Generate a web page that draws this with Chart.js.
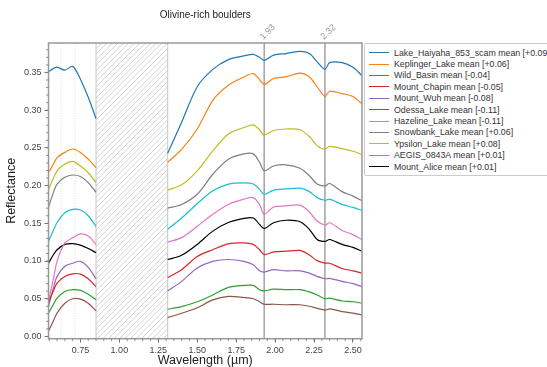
<!DOCTYPE html>
<html>
<head>
<meta charset="utf-8">
<script src="https://cdn.jsdelivr.net/npm/chart.js@4.4.1/dist/chart.umd.min.js"></script>
<style>
  html, body { margin: 0; padding: 0; background: #fff; overflow: hidden; }
  #wrap { position: relative; width: 547px; height: 367px; }
  #legend {
    position: absolute; left: 364px; top: 43px;
    border: 1px solid #ccc; border-radius: 2px; padding: 3px 4px;
    white-space: nowrap; background: #fff; color: #333;
    font: 8.8px "Liberation Sans", Arial, sans-serif;
  }
  .row { display: flex; align-items: center; height: 11.4px; }
  .swatch { width: 20px; height: 0; border-top: 1.2px solid; margin-right: 5px; }
</style>
</head>
<body>
<div id="wrap">
  <canvas id="chart" width="547" height="367"></canvas>
  <div id="legend"></div>
</div>
<script>
// wavelengths (µm); null value at 1.08 breaks the line across the masked region
const wavelengths = [0.545, 0.575, 0.60, 0.65, 0.70, 0.75, 0.80, 0.85,
    1.08,
    1.31, 1.40, 1.50, 1.60, 1.70, 1.80, 1.86, 1.90, 1.93, 1.99, 2.07, 2.16, 2.22, 2.27, 2.32, 2.35, 2.43, 2.50, 2.557];

const names = [
    "Lake_Haiyaha_853_scam mean [+0.09]",
    "Keplinger_Lake mean [+0.06]",
    "Wild_Basin mean [-0.04]",
    "Mount_Chapin mean [-0.05]",
    "Mount_Wuh mean [-0.08]",
    "Odessa_Lake mean [-0.11]",
    "Hazeline_Lake mean [-0.11]",
    "Snowbank_Lake mean [+0.06]",
    "Ypsilon_Lake mean [+0.08]",
    "AEGIS_0843A mean [+0.01]",
    "Mount_Alice mean [+0.01]"
];
const colors = ["#1f77b4", "#ff7f0e", "#2ca02c", "#d62728", "#9467bd", "#8c564b",
    "#e377c2", "#7f7f7f", "#bcbd22", "#17becf", "#000000"];

const lakeHaiyaha = [0.351, 0.355, 0.357, 0.353, 0.358, 0.341, 0.317, 0.289, null,
    0.243, 0.284, 0.331, 0.354, 0.367, 0.372, 0.374, 0.370, 0.366, 0.373, 0.375, 0.378, 0.375, 0.364, 0.354, 0.363, 0.363, 0.357, 0.346];
const keplinger = [0.217, 0.228, 0.237, 0.244, 0.2485, 0.244, 0.235, 0.224, null,
    0.231, 0.248, 0.275, 0.313, 0.333, 0.344, 0.3485, 0.3405, 0.334, 0.342, 0.344, 0.349, 0.344, 0.331, 0.318, 0.325, 0.322, 0.318, 0.3085];
const wildBasin = [0.031, 0.042, 0.0507, 0.0596, 0.062, 0.061, 0.056, 0.0485, null,
    0.036, 0.0396, 0.046, 0.055, 0.065, 0.0676, 0.0676, 0.062, 0.0605, 0.0627, 0.062, 0.062, 0.059, 0.055, 0.050, 0.0507, 0.047, 0.046, 0.044];
const mountChapin = [0.045, 0.060, 0.0707, 0.0796, 0.083, 0.0827, 0.0765, 0.066, null,
    0.078, 0.0885, 0.106, 0.115, 0.1227, 0.124, 0.122, 0.115, 0.1085, 0.112, 0.113, 0.114, 0.108, 0.1005, 0.0973, 0.097, 0.090, 0.087, 0.084];
const mountWuh = [0.040, 0.063, 0.0796, 0.093, 0.097, 0.0996, 0.0916, 0.0765, null,
    0.0605, 0.073, 0.0907, 0.0996, 0.102, 0.0996, 0.095, 0.087, 0.0853, 0.0885, 0.087, 0.087, 0.084, 0.0796, 0.0765, 0.077, 0.073, 0.070, 0.066];
const odessa = [0.007, 0.020, 0.031, 0.044, 0.050, 0.0494, 0.044, 0.034, null,
    0.025, 0.0307, 0.038, 0.0485, 0.053, 0.0516, 0.050, 0.046, 0.0427, 0.0427, 0.042, 0.042, 0.040, 0.0373, 0.035, 0.0365, 0.033, 0.031, 0.0285];
const hazeline = [0.047, 0.075, 0.0996, 0.124, 0.1307, 0.136, 0.133, 0.122, null,
    0.125, 0.131, 0.146, 0.162, 0.175, 0.182, 0.184, 0.175, 0.162, 0.1716, 0.173, 0.174, 0.165, 0.153, 0.1476, 0.1507, 0.1405, 0.135, 0.1285];
const snowbank = [0.171, 0.190, 0.202, 0.211, 0.214, 0.212, 0.204, 0.191, null,
    0.170, 0.175, 0.1885, 0.215, 0.235, 0.242, 0.242, 0.231, 0.2196, 0.226, 0.2275, 0.223, 0.213, 0.202, 0.1996, 0.2027, 0.192, 0.186, 0.180];
const ypsilon = [0.195, 0.209, 0.2196, 0.2285, 0.232, 0.226, 0.217, 0.204, null,
    0.194, 0.201, 0.2196, 0.246, 0.2685, 0.277, 0.2805, 0.274, 0.267, 0.273, 0.275, 0.274, 0.265, 0.253, 0.248, 0.252, 0.249, 0.2455, 0.241];
const aegis = [0.126, 0.140, 0.151, 0.164, 0.1685, 0.1676, 0.160, 0.146, null,
    0.142, 0.157, 0.176, 0.193, 0.202, 0.2035, 0.202, 0.195, 0.1885, 0.194, 0.1955, 0.1965, 0.192, 0.184, 0.1805, 0.182, 0.175, 0.171, 0.167];
const mountAlice = [0.097, 0.108, 0.115, 0.122, 0.123, 0.121, 0.1165, 0.111, null,
    0.102, 0.1076, 0.122, 0.1396, 0.151, 0.1565, 0.157, 0.1485, 0.143, 0.1507, 0.154, 0.152, 0.142, 0.1285, 0.126, 0.1285, 0.122, 0.118, 0.113];

const series = [lakeHaiyaha, keplinger, wildBasin, mountChapin, mountWuh, odessa,
    hazeline, snowbank, ypsilon, aegis, mountAlice];

const maskedRange = [0.85, 1.31];
const bandLines = [1.93, 2.32];
const dottedLines = [0.625, 0.715];
const xTicks = { min: 0.545, max: 2.558, step: 0.25, minor: 0.05 };
const yTicks = { min: -0.003, max: 0.389, step: 0.05, minor: 0.01 };

const FONT = "'Liberation Sans', Arial, sans-serif";

// extra drawing: hatch, marker lines, frame, minor ticks, title
const decor = {
    id: "decor",
    beforeDatasetsDraw(chart) {
        const ctx = chart.ctx, a = chart.chartArea, xs = chart.scales.x;
        const h = a.bottom - a.top;
        ctx.save();
        // hatched gap
        const x0 = xs.getPixelForValue(maskedRange[0]), x1 = xs.getPixelForValue(maskedRange[1]);
        ctx.beginPath();
        ctx.rect(x0, a.top, x1 - x0, h);
        ctx.clip();
        ctx.strokeStyle = "#c9c9c9";
        ctx.lineWidth = 0.8;
        for (let s = x0 - h; s < x1 + 10; s += 5.5) {
            ctx.beginPath();
            ctx.moveTo(s, a.bottom);
            ctx.lineTo(s + h, a.top);
            ctx.stroke();
        }
        ctx.restore();
        ctx.save();
        ctx.strokeStyle = "#cfcfcf";
        ctx.lineWidth = 1.2;
        [x0, x1].forEach(px => {
            ctx.beginPath(); ctx.moveTo(px, a.top); ctx.lineTo(px, a.bottom); ctx.stroke();
        });
        // dotted guides
        ctx.strokeStyle = "#d0d0d0";
        ctx.lineWidth = 0.7;
        ctx.setLineDash([1, 1.5]);
        dottedLines.forEach(w => {
            const px = xs.getPixelForValue(w);
            ctx.beginPath(); ctx.moveTo(px, a.top); ctx.lineTo(px, a.bottom); ctx.stroke();
        });
        ctx.setLineDash([]);
        // absorption band lines
        ctx.strokeStyle = "#a8a8a8";
        ctx.lineWidth = 1.6;
        bandLines.forEach(w => {
            const px = xs.getPixelForValue(w);
            ctx.beginPath(); ctx.moveTo(px, a.top); ctx.lineTo(px, a.bottom); ctx.stroke();
        });
        ctx.restore();
    },
    afterDraw(chart) {
        const ctx = chart.ctx, a = chart.chartArea, xs = chart.scales.x, ys = chart.scales.y;
        ctx.save();
        // frame
        ctx.strokeStyle = "#999";
        ctx.lineWidth = 1.5;
        ctx.strokeRect(a.left, a.top, a.right - a.left, a.bottom - a.top);
        // minor ticks
        ctx.lineWidth = 0.8;
        ctx.strokeStyle = "#777";
        for (let v = Math.ceil(xTicks.min / xTicks.minor) * xTicks.minor; v <= xTicks.max; v += xTicks.minor) {
            const px = xs.getPixelForValue(v);
            ctx.beginPath(); ctx.moveTo(px, a.bottom); ctx.lineTo(px, a.bottom + 2.5); ctx.stroke();
        }
        for (let v = 0; v <= yTicks.max; v += yTicks.minor) {
            const py = ys.getPixelForValue(v);
            ctx.beginPath(); ctx.moveTo(a.left, py); ctx.lineTo(a.left - 2.5, py); ctx.stroke();
        }
        // band labels
        ctx.fillStyle = "#999";
        ctx.font = "9px " + FONT;
        bandLines.forEach(w => {
            const px = xs.getPixelForValue(w);
            ctx.save();
            ctx.translate(px - 1, a.top - 3);
            ctx.rotate(-Math.PI / 4);
            ctx.fillText(w.toFixed(2), 0, 0);
            ctx.restore();
        });
        // title
        ctx.fillStyle = "#222";
        ctx.font = "10px " + FONT;
        ctx.textAlign = "center";
        ctx.fillText("Olivine-rich boulders", (a.left + a.right) / 2, 18);
        ctx.restore();
    }
};

const datasets = series.map((vals, i) => ({
    label: names[i],
    data: wavelengths.map((w, j) => ({ x: w, y: vals[j] })),
    borderColor: colors[i],
    borderWidth: 1.2,
    pointRadius: 0,
    tension: 0.3,
    spanGaps: false
}));

new Chart(document.getElementById("chart").getContext("2d"), {
    type: "line",
    data: { datasets },
    plugins: [decor],
    options: {
        responsive: false,
        animation: false,
        layout: { padding: { top: 43, right: 185, left: 2, bottom: 0 } },
        plugins: { legend: { display: false }, tooltip: { enabled: false } },
        scales: {
            x: {
                type: "linear",
                min: xTicks.min, max: xTicks.max,
                border: { display: false },
                grid: { drawOnChartArea: false, tickLength: 4, color: "#777" },
                ticks: {
                    stepSize: xTicks.step, includeBounds: false,
                    callback: v => v.toFixed(2),
                    color: "#444", padding: 2,
                    font: { size: 9, family: FONT }
                },
                title: {
                    display: true, text: "Wavelength (µm)", color: "#222",
                    padding: { top: -3, bottom: 0 },
                    font: { size: 12.5, family: FONT, lineHeight: 1 }
                }
            },
            y: {
                min: yTicks.min, max: yTicks.max,
                border: { display: false },
                grid: { drawOnChartArea: false, tickLength: 4, color: "#777" },
                ticks: {
                    stepSize: yTicks.step, includeBounds: false,
                    callback: v => v.toFixed(2),
                    color: "#444", padding: 3,
                    font: { size: 9, family: FONT }
                },
                title: {
                    display: true, text: "Reflectance", color: "#222", padding: 2,
                    font: { size: 12.5, family: FONT }
                }
            }
        }
    }
});

// legend
const legend = document.getElementById("legend");
names.forEach((n, i) => {
    const row = document.createElement("div");
    row.className = "row";
    const sw = document.createElement("span");
    sw.className = "swatch";
    sw.style.borderColor = colors[i];
    const tx = document.createElement("span");
    tx.textContent = n;
    row.appendChild(sw);
    row.appendChild(tx);
    legend.appendChild(row);
});
</script>
</body>
</html>
